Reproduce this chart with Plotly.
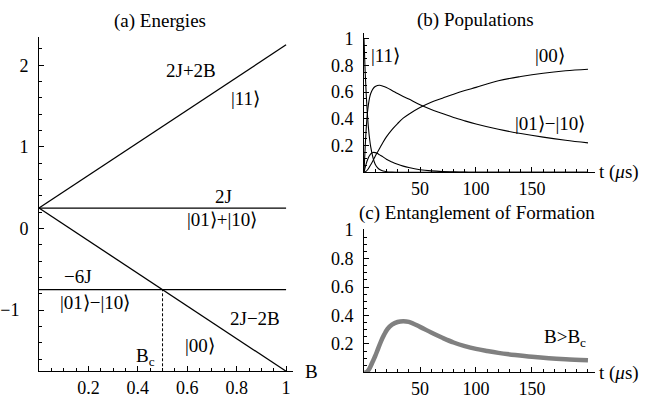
import plotly.graph_objects as go

# ---------------- data ----------------
# (a) Energies vs B
B_vals = [0.0, 1.0]
E_11 = [0.25, 2.25]        # 2J+2B
E_plus = [0.25, 0.25]      # 2J
E_minus = [-0.75, -0.75]   # -6J
E_00 = [0.25, -1.75]       # 2J-2B
Bc_x = [0.5, 0.5]
Bc_y = [-1.75, -0.75]

# (b) Populations vs t (us)
t_pop = [0, 1, 2, 3, 4, 5, 6, 8, 10, 12, 14, 17, 20, 25, 30, 35, 40, 50, 60, 70,
         80, 90, 100, 120, 140, 160, 180, 200]
p_11 = [1.0, 0.76, 0.58, 0.44, 0.33, 0.25, 0.19, 0.11, 0.06, 0.035, 0.02, 0.009,
        0.004, 0.001, 0, 0, 0, 0, 0, 0, 0, 0, 0, 0, 0, 0, 0, 0]
p_minus = [0, 0.18, 0.33, 0.44, 0.51, 0.56, 0.59, 0.625, 0.642, 0.65, 0.652, 0.645,
           0.635, 0.613, 0.59, 0.568, 0.548, 0.505, 0.47, 0.44, 0.41, 0.385, 0.362,
           0.322, 0.29, 0.263, 0.24, 0.22]
p_plus = [0, 0.035, 0.065, 0.09, 0.11, 0.125, 0.137, 0.148, 0.147, 0.14, 0.13, 0.115,
          0.097, 0.077, 0.06, 0.046, 0.035, 0.019, 0.01, 0.005, 0.003, 0.001, 0,
          0, 0, 0, 0, 0]
p_00 = [0, 0.002, 0.008, 0.017, 0.028, 0.042, 0.056, 0.087, 0.12, 0.15, 0.18, 0.225,
        0.265, 0.32, 0.365, 0.405, 0.435, 0.485, 0.525, 0.555, 0.585, 0.612, 0.636,
        0.685, 0.717, 0.742, 0.76, 0.772]

# (c) Entanglement of formation vs t (us)
t_ent = [0, 2, 4, 6, 8, 10, 12, 15, 18, 21, 25, 30, 35, 40, 50, 60, 70, 80, 90, 100,
         110, 120, 135, 150, 165, 180, 200]
ent = [0, 0.0, 0.015, 0.045, 0.08, 0.115, 0.155, 0.215, 0.265, 0.305, 0.335, 0.354,
       0.36, 0.355, 0.32, 0.28, 0.243, 0.21, 0.185, 0.165, 0.15, 0.137, 0.122, 0.109,
       0.099, 0.092, 0.085]

# tick labels
a_xticks = [0.2, 0.4, 0.6, 0.8, 1.0]
a_xticktext = ["0.2", "0.4", "0.6", "0.8", "1"]
a_yticks = [-1, 0, 1, 2]
a_yticktext = ["\u22121\u2002", "0", "1", "2"]
t_ticks = [50, 100, 150]
t_ticktext = ["50", "100", "150"]
p_ticks = [0.2, 0.4, 0.6, 0.8, 1.0]
p_ticktext = ["0.2", "0.4", "0.6", "0.8", "1"]

# ---------------- figure ----------------
W, H = 646, 401
FONT = "Liberation Serif"
FS_TICK = 18
FS = 19


def px(x, y):
    return x / W, 1 - y / H


fig = go.Figure()
line_k = dict(color="black", width=1.3)

for ys in (E_11, E_plus, E_minus, E_00):
    fig.add_trace(go.Scatter(x=B_vals, y=ys, mode="lines", line=line_k,
                             xaxis="x", yaxis="y", hoverinfo="skip"))
fig.add_trace(go.Scatter(x=Bc_x, y=Bc_y, mode="lines",
                         line=dict(color="black", width=1, dash="3px,2px"),
                         xaxis="x", yaxis="y", hoverinfo="skip"))

for ys in (p_11, p_minus, p_plus, p_00):
    fig.add_trace(go.Scatter(x=t_pop, y=ys, mode="lines", line_shape="spline",
                             line=dict(color="black", width=1.1),
                             xaxis="x2", yaxis="y2", hoverinfo="skip"))

fig.add_trace(go.Scatter(x=t_ent, y=ent, mode="lines", line_shape="spline",
                         line=dict(color="#808080", width=4.5),
                         xaxis="x3", yaxis="y3", hoverinfo="skip"))

axis_common = dict(showline=True, linecolor="black", linewidth=1, ticks="inside",
                   ticklen=5, tickcolor="black", tickwidth=1, showgrid=False,
                   zeroline=False,
                   tickfont=dict(family=FONT, size=FS_TICK, color="black"))

x0a, x1a = 39, 293
xdom_bc = [364 / W, 594.7 / W]


def minor(d):
    return dict(ticks="inside", ticklen=3, tickcolor="black",
                tickmode="linear", tick0=0, dtick=d)


fig.update_layout(
    width=W, height=H, margin=dict(l=0, r=0, t=0, b=0),
    paper_bgcolor="white", plot_bgcolor="white", showlegend=False,
    font=dict(family=FONT, size=FS, color="black"),
    xaxis=dict(domain=[x0a / W, x1a / W], range=[0, 1.028], anchor="y",
               tickmode="array", tickvals=a_xticks, ticktext=a_xticktext,
               minor=minor(0.05), **axis_common),
    yaxis=dict(domain=[1 - 370.6 / H, 1 - 28.3 / H], range=[-1.75, 2.35], anchor="x",
               tickmode="array", tickvals=a_yticks, ticktext=a_yticktext,
               minor=minor(0.2), ticklabelstandoff=6, **axis_common),
    xaxis2=dict(domain=xdom_bc, range=[0, 206], anchor="y2",
                tickmode="array", tickvals=t_ticks, ticktext=t_ticktext,
                minor=minor(10), **axis_common),
    yaxis2=dict(domain=[1 - 167 / H, 1 - 25 / H], range=[0, 1.04], anchor="x2",
                tickmode="array", tickvals=p_ticks, ticktext=p_ticktext,
                minor=minor(0.05), ticklabelstandoff=6, **axis_common),
    xaxis3=dict(domain=xdom_bc, range=[0, 206], anchor="y3",
                tickmode="array", tickvals=t_ticks, ticktext=t_ticktext,
                minor=minor(10), **axis_common),
    yaxis3=dict(domain=[1 - 371.7 / H, 1 - 225.5 / H], range=[0, 1.005], anchor="x3",
                tickmode="array", tickvals=p_ticks, ticktext=p_ticktext,
                minor=minor(0.05), ticklabelstandoff=6, **axis_common),
)


def label(text, x, y, xanchor="center", size=FS):
    ax, ay = px(x, y)
    fig.add_annotation(text=text, x=ax, y=ay, xref="paper", yref="paper",
                       xanchor=xanchor, yanchor="middle", showarrow=False,
                       font=dict(family=FONT, size=size, color="black"))


# titles
label("(a) Energies", 160, 12)
label("(b) Populations", 475, 11)
label("(c) Entanglement of Formation", 477, 209)

# panel (a) labels
label("2J+2B", 191, 63)
label("|11\u27e9", 245, 92)
label("2J", 223, 192)
label("|01\u27e9+|10\u27e9", 222, 215)
label("\u22126J", 78, 274)
label("|01\u27e9\u2212|10\u27e9", 95, 300)
label("2J\u22122B", 255, 317)
label("|00\u27e9", 200, 344)
label("B<sub>c</sub>", 145, 356)
label("B", 303, 371, xanchor="left")

# panel (b) labels
label("|11\u27e9", 385, 48)
label("|00\u27e9", 550, 48)
label("|01\u27e9\u2212|10\u27e9", 550, 117)
label("t (<i>\u03bc</i>s)", 597, 167, xanchor="left")

# panel (c) labels
label("B>B<sub>c</sub>", 565, 337)
label("t (<i>\u03bc</i>s)", 597, 372, xanchor="left")

fig.write_html("out.html", config={"displayModeBar": False, "staticPlot": True},
               post_script="document.body.style.margin='0';")
